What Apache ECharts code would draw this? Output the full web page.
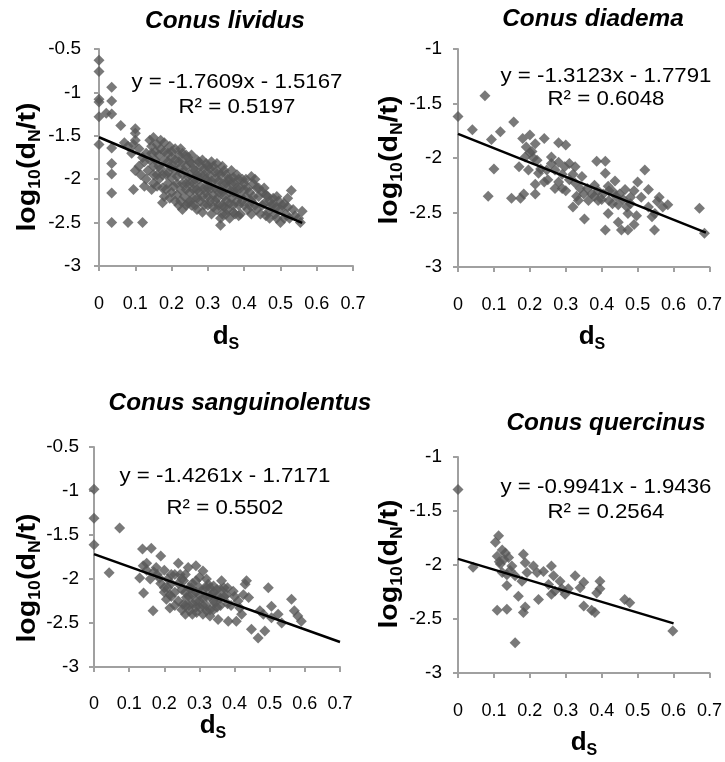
<!DOCTYPE html>
<html>
<head>
<meta charset="utf-8">
<script src="https://cdn.jsdelivr.net/npm/echarts@6/dist/echarts.min.js"></script>
<style>
  html, body { margin: 0; padding: 0; background: #fff; }
  #chart { width: 725px; height: 762px; }
</style>
</head>
<body>
<div id="chart"></div>
<script>
// species names (panel titles)
const titles = ["Conus lividus", "Conus diadema", "Conus sanguinolentus", "Conus quercinus"];
const equations = ["y = -1.7609x - 1.5167", "y = -1.3123x - 1.7791", "y = -1.4261x - 1.7171", "y = -0.9941x - 1.9436"];
const r2Labels = ["R² = 0.5197", "R² = 0.6048", "R² = 0.5502", "R² = 0.2564"];

// y axis ranges [min, max] per panel
const yRanges = [[-3, -0.5], [-3, -1], [-3, -0.5], [-3, -1]];
const xRange = [0, 0.7];

// [ds, log10(dN/t)]
const lividus = [
  [0,-0.63],[0,-0.76],[0,-1.08],[0,-1.11],[0,-1.28],[0,-1.6],
  [0.02,-1.24],[0.035,-0.94],[0.035,-1.1],[0.035,-1.25],[0.035,-1.64],[0.035,-1.82],[0.035,-1.94],[0.035,-2.16],[0.035,-2.5],
  [0.06,-1.38],[0.08,-2.5],[0.12,-2.5],[0.095,-2.12],[0.125,-2.08],
  [0.07,-1.58],[0.08,-1.62],[0.09,-1.7],[0.1,-1.42],[0.1,-1.47],[0.1,-1.55],[0.095,-1.6],[0.11,-1.65],[0.1,-1.9],[0.11,-1.85],
  [0.115,-1.95],[0.12,-1.75],[0.13,-1.7],[0.125,-1.8],[0.135,-1.9],[0.13,-2.0],
  [0.14,-1.55],[0.15,-1.52],[0.145,-1.62],[0.155,-1.68],[0.14,-1.78],[0.15,-1.85],[0.16,-1.6],[0.165,-1.72],[0.17,-1.65],
  [0.16,-1.95],[0.15,-2.05],[0.145,-2.12],[0.165,-2.0],[0.17,-1.88],[0.175,-2.1],[0.18,-1.58],[0.18,-1.78],[0.185,-1.95],
  [0.18,-2.2],[0.175,-2.27],[0.19,-1.7],[0.19,-2.05],[0.195,-1.62],[0.195,-1.85],[0.2,-2.15],[0.2,-1.75],[0.2,-1.98],
  [0.21,-1.65],[0.21,-1.9],[0.21,-2.25],[0.215,-2.05],[0.22,-1.72],[0.22,-1.8],[0.22,-2.3],[0.225,-2.12],[0.23,-1.7],
  [0.23,-1.95],[0.23,-2.35],[0.235,-2.2],[0.24,-1.85],[0.24,-2.05],[0.245,-1.75],[0.245,-2.28],[0.25,-1.95],[0.25,-2.15],
  [0.255,-1.82],[0.255,-2.3],[0.26,-2.05],[0.26,-2.22],[0.265,-1.9],[0.27,-1.78],[0.27,-2.12],[0.27,-2.35],[0.275,-2.0],
  [0.28,-1.85],[0.28,-2.25],[0.285,-2.38],[0.29,-1.95],[0.29,-2.1],[0.295,-1.82],[0.3,-2.2],[0.3,-2.3],[0.3,-2.02],
  [0.305,-1.88],[0.31,-2.1],[0.31,-2.4],[0.315,-1.85],[0.32,-2.0],[0.32,-2.25],[0.325,-2.35],[0.33,-1.92],[0.33,-2.15],
  [0.335,-2.53],[0.335,-2.45],[0.34,-1.85],[0.34,-2.05],[0.34,-2.3],[0.345,-2.2],[0.35,-1.95],[0.35,-2.4],[0.355,-2.1],
  [0.36,-2.0],[0.36,-2.28],[0.365,-1.9],[0.37,-2.15],[0.37,-2.38],[0.375,-2.05],[0.38,-1.95],[0.38,-2.25],[0.385,-2.42],
  [0.39,-2.1],[0.39,-2.2],[0.395,-2.0],[0.4,-2.3],[0.4,-2.12],
  [0.405,-2.0],[0.41,-2.35],[0.415,-2.15],[0.42,-1.97],[0.42,-2.25],[0.425,-2.05],[0.43,-2.3],[0.435,-2.1],[0.44,-2.2],
  [0.445,-2.4],[0.45,-2.15],[0.455,-2.28],[0.46,-2.18],[0.465,-2.38],[0.47,-2.25],[0.47,-2.45],[0.475,-2.3],[0.48,-2.22],
  [0.485,-2.4],[0.49,-2.32],[0.495,-2.25],[0.5,-2.5],[0.5,-2.35],
  [0.51,-2.28],[0.515,-2.4],[0.52,-2.32],[0.525,-2.45],[0.53,-2.13],[0.535,-2.35],[0.54,-2.42],[0.55,-2.45],[0.555,-2.5],[0.56,-2.37],
  [0.145,-1.7],[0.15,-1.95],[0.155,-1.78],[0.16,-2.08],[0.165,-1.85],[0.17,-1.55],[0.175,-1.95],[0.18,-1.68],[0.185,-2.12],
  [0.19,-1.8],[0.19,-1.92],[0.195,-2.22],[0.2,-1.68],[0.205,-1.85],[0.205,-2.08],[0.21,-1.78],[0.215,-1.97],[0.215,-2.18],
  [0.22,-1.88],[0.225,-1.65],[0.225,-2.25],[0.23,-1.8],[0.23,-2.05],[0.235,-1.9],[0.24,-1.72],[0.24,-2.12],[0.24,-2.3],
  [0.245,-1.98],[0.25,-1.8],[0.25,-2.05],[0.25,-2.25],[0.255,-1.72],[0.26,-1.88],[0.26,-2.12],[0.265,-2.0],[0.265,-2.3],
  [0.27,-1.95],[0.27,-2.22],[0.275,-1.8],[0.275,-2.15],[0.28,-1.95],[0.28,-2.08],[0.285,-1.78],[0.285,-2.2],[0.29,-1.88],
  [0.29,-2.3],[0.295,-2.0],[0.295,-2.15],[0.3,-1.85],[0.3,-2.1],[0.305,-1.95],[0.305,-2.25],[0.31,-1.8],[0.31,-2.02],
  [0.315,-2.18],[0.315,-2.32],[0.32,-1.92],[0.32,-2.1],[0.325,-1.82],[0.325,-2.22],[0.33,-2.02],[0.33,-2.3],[0.335,-1.95],
  [0.335,-2.12],[0.34,-2.4],[0.34,-2.15],[0.345,-1.9],[0.345,-2.32],[0.35,-2.05],[0.35,-2.25],[0.355,-2.0],[0.355,-2.35],
  [0.36,-2.15],[0.36,-2.45],[0.365,-2.05],[0.365,-2.22],[0.37,-1.98],[0.37,-2.3],[0.375,-2.15],[0.375,-2.4],[0.38,-2.1],
  [0.385,-2.0],[0.385,-2.3],[0.39,-2.4],[0.395,-2.25],[0.4,-2.05],[0.405,-2.2],[0.41,-2.1],[0.415,-2.3],[0.42,-2.4],
  [0.425,-2.2],[0.43,-2.0],[0.435,-2.35],[0.44,-2.1],[0.45,-2.3],[0.455,-2.1],[0.46,-2.42],[0.465,-2.2],[0.48,-2.3],
  [0.49,-2.2],[0.49,-2.45],[0.505,-2.3],[0.51,-2.45],[0.52,-2.22]
];

const diadema = [
  [0,-1.62],[0.075,-1.43],[0.04,-1.74],[0.093,-1.83],[0.118,-1.76],[0.1,-2.1],[0.084,-2.35],[0.155,-1.67],[0.149,-2.37],
  [0.174,-2.37],[0.183,-2.33],[0.17,-2.08],[0.18,-1.82],[0.2,-1.79],[0.24,-1.82],[0.19,-1.9],[0.206,-1.94],[0.215,-1.87],
  [0.187,-1.99],[0.196,-2.11],[0.22,-2.02],[0.224,-2.14],[0.215,-2.24],[0.215,-2.33],[0.24,-2.22],[0.247,-2.11],[0.26,-1.99],
  [0.28,-1.86],[0.3,-1.88],[0.27,-2.11],[0.28,-2.22],[0.29,-2.28],[0.3,-2.3],[0.28,-2.04],[0.297,-2.08],[0.31,-2.05],
  [0.326,-2.08],[0.326,-2.23],[0.32,-2.45],[0.345,-2.17],[0.35,-2.33],[0.352,-2.56],[0.363,-2.39],[0.335,-2.39],[0.372,-2.33],
  [0.38,-2.25],[0.39,-2.39],[0.404,-2.33],[0.386,-2.03],[0.41,-2.03],[0.41,-2.14],[0.418,-2.26],[0.42,-2.39],[0.418,-2.51],
  [0.41,-2.66],[0.437,-2.21],[0.432,-2.31],[0.45,-2.33],[0.465,-2.29],[0.446,-2.43],[0.446,-2.59],[0.455,-2.66],[0.473,-2.66],
  [0.473,-2.51],[0.48,-2.36],[0.49,-2.61],[0.497,-2.53],[0.5,-2.22],[0.51,-2.36],[0.52,-2.11],[0.53,-2.29],[0.53,-2.45],
  [0.54,-2.54],[0.547,-2.66],[0.56,-2.36],[0.57,-2.45],[0.584,-2.43],[0.555,-2.4],[0.672,-2.46],[0.686,-2.69],[0.548,-2.51],
  [0.36,-2.28],[0.38,-2.35],[0.39,-2.3],[0.4,-2.38],[0.42,-2.3],[0.43,-2.42],[0.44,-2.35],[0.46,-2.38],[0.47,-2.45],
  [0.48,-2.42],[0.49,-2.3],[0.34,-2.28],[0.33,-2.35],[0.31,-2.2],[0.2,-1.95],[0.21,-2.0],[0.23,-2.1],[0.25,-2.2],
  [0.26,-2.05],[0.27,-2.28],[0.29,-2.15],[0.32,-2.15]
];

const sanguinolentus = [
  [0,-0.98],[0,-1.31],[0,-1.61],[0.073,-1.42],[0.043,-1.93],[0.13,-1.99],[0.138,-1.66],[0.163,-1.65],[0.141,-2.16],
  [0.168,-2.36],[0.15,-1.82],[0.177,-1.87],[0.19,-1.74],[0.186,-1.99],[0.2,-2.1],[0.216,-2.18],[0.206,-2.23],[0.216,-2.33],
  [0.24,-1.82],[0.245,-1.95],[0.255,-2.02],[0.268,-1.87],[0.29,-1.85],[0.31,-1.91],[0.277,-2.1],[0.263,-2.21],[0.253,-2.29],
  [0.272,-2.36],[0.292,-2.38],[0.31,-2.4],[0.32,-2.36],[0.3,-2.18],[0.325,-2.06],[0.335,-2.18],[0.344,-2.27],[0.353,-2.46],
  [0.363,-2.02],[0.377,-2.18],[0.382,-2.48],[0.396,-2.14],[0.405,-2.48],[0.415,-2.33],[0.425,-2.18],[0.434,-2.02],[0.43,-2.06],
  [0.44,-2.21],[0.448,-2.57],[0.467,-2.67],[0.486,-2.59],[0.472,-2.36],[0.482,-2.4],[0.496,-2.1],[0.505,-2.31],[0.505,-2.44],
  [0.524,-2.4],[0.534,-2.5],[0.562,-2.23],[0.57,-2.36],[0.58,-2.42],[0.59,-2.48],
  [0.22,-2.05],[0.23,-2.15],[0.24,-2.25],[0.25,-2.12],[0.26,-2.3],[0.27,-2.2],[0.28,-2.05],[0.28,-2.28],[0.29,-2.15],
  [0.29,-2.32],[0.3,-2.25],[0.31,-2.12],[0.31,-2.3],[0.32,-2.2],[0.33,-2.1],[0.33,-2.35],[0.34,-2.25],[0.35,-2.12],
  [0.36,-2.3],[0.37,-2.2],[0.38,-2.1],[0.39,-2.3],[0.41,-2.25],[0.42,-2.4],[0.2,-1.9],[0.21,-2.0],[0.23,-1.95],
  [0.26,-1.95],[0.3,-1.98],[0.32,-2.0],[0.34,-2.08],[0.36,-2.12],[0.4,-2.2],[0.25,-2.35],[0.28,-2.4],[0.33,-2.42],
  [0.35,-2.32],[0.18,-1.95],[0.19,-2.05],[0.17,-1.92],
  [0.2,-2.15],[0.21,-2.1],[0.22,-2.2],[0.23,-2.3],[0.24,-2.05],[0.25,-2.0],[0.26,-2.15],[0.27,-2.1],[0.27,-2.3],
  [0.28,-2.18],[0.29,-2.25],[0.3,-2.32],[0.3,-2.1],[0.31,-2.22],[0.32,-2.3],[0.32,-2.1],[0.33,-2.2],[0.34,-2.35],
  [0.34,-2.15],[0.35,-2.2],[0.36,-2.22],[0.37,-2.1],[0.38,-2.28],[0.26,-2.4],[0.29,-2.02],[0.22,-1.95],[0.15,-1.9],
  [0.16,-2.0],[0.14,-1.85]
];

const quercinus = [
  [0,-1.3],[0.042,-2.02],[0.104,-1.79],[0.113,-1.73],[0.109,-1.92],[0.118,-1.99],[0.123,-1.86],[0.132,-1.89],[0.141,-1.93],
  [0.123,-2.07],[0.136,-2.09],[0.15,-2.01],[0.159,-2.1],[0.136,-2.19],[0.109,-2.42],[0.136,-2.41],[0.159,-2.72],[0.168,-2.29],
  [0.178,-2.15],[0.182,-1.9],[0.187,-1.98],[0.192,-2.07],[0.187,-2.39],[0.182,-2.44],[0.21,-2.01],[0.22,-2.07],[0.224,-2.32],
  [0.238,-2.06],[0.252,-2.18],[0.26,-2.01],[0.266,-2.1],[0.26,-2.27],[0.27,-2.24],[0.284,-2.15],[0.289,-2.22],[0.298,-2.27],
  [0.307,-2.22],[0.326,-2.1],[0.34,-2.21],[0.35,-2.16],[0.35,-2.38],[0.372,-2.42],[0.381,-2.44],[0.386,-2.26],[0.395,-2.22],
  [0.395,-2.15],[0.464,-2.32],[0.478,-2.35],[0.598,-2.61],[0.115,-1.97],[0.128,-1.95],[0.145,-2.05]
];

// trendline end points
const trends = [
  [[0, -1.5167], [0.56, -2.5028]],
  [[0, -1.7791], [0.69, -2.6846]],
  [[0, -1.7171], [0.7, -2.7154]],
  [[0, -1.9436], [0.6, -2.5401]]
];
const points = [lividus, diadema, sanguinolentus, quercinus];

// layout
const grids = [
  { left: 99, top: 49, width: 254, height: 217 },
  { left: 458, top: 49, width: 252, height: 218 },
  { left: 94, top: 447, width: 246, height: 220 },
  { left: 458, top: 457, width: 252, height: 216 }
];
const xLabelMargin = [29, 29, 28, 29];
const yLabelMargin = [18, 16, 15, 16];
const titlePos = [[225, 22], [593, 20], [240, 404], [606, 424]];
const eqPos = [[237, 82, 107], [606, 76, 99], [225, 476, 508], [606, 487, 512]];
const yNamePos = [[28, 167], [390, 160], [28, 578], [390, 564]];
const xNamePos = [[226, 337], [592, 337], [213, 726], [584, 743]];

const FONT = '"Liberation Sans", Arial, sans-serif';
const axisGray = "#a0a0a0";

const chart = echarts.init(document.getElementById("chart"), null, { renderer: "canvas" });

const sub = (size) => ({ fontSize: size, fontWeight: "bold", fontFamily: FONT, fill: "#000", lineHeight: 14, verticalAlign: "bottom" });
const main = (size) => ({ fontSize: size, fontWeight: "bold", fontFamily: FONT, fill: "#000", lineHeight: 32 });

const graphic = [];
titles.forEach((t, i) => {
  graphic.push({
    type: "text", x: titlePos[i][0], y: titlePos[i][1], z: 10, scaleX: 1.06,
    style: { text: t, font: "italic bold 23px " + FONT, fill: "#000", align: "center", verticalAlign: "middle" }
  });
  graphic.push({
    type: "text", x: eqPos[i][0], y: eqPos[i][1], z: 10, scaleX: 1.06,
    style: { text: equations[i], font: "21px " + FONT, fill: "#000", align: "center", verticalAlign: "middle" }
  });
  graphic.push({
    type: "text", x: eqPos[i][0], y: eqPos[i][2], z: 10, scaleX: 1.06,
    style: { text: r2Labels[i], font: "21px " + FONT, fill: "#000", align: "center", verticalAlign: "middle" }
  });
  graphic.push({
    type: "text", x: yNamePos[i][0], y: yNamePos[i][1], rotation: Math.PI / 2, z: 10, scaleX: 1.1,
    style: {
      text: "{m|log}{s|10}{m|(d}{s|N}{m|/t)}", align: "center", verticalAlign: "middle",
      rich: { m: main(26), s: sub(16) }
    }
  });
  graphic.push({
    type: "text", x: xNamePos[i][0], y: xNamePos[i][1], z: 10,
    style: {
      text: "{m|d}{s|S}", align: "center", verticalAlign: "middle",
      rich: { m: main(26), s: sub(16) }
    }
  });
});

const axisCommon = {
  type: "value",
  axisLine: { show: true, onZero: false, lineStyle: { color: axisGray, width: 2 } },
  axisTick: { show: true, length: 5, lineStyle: { color: axisGray, width: 2 } },
  splitLine: { show: false }
};

chart.setOption({
  animation: false,
  grid: grids,
  xAxis: grids.map((g, i) => ({
    ...axisCommon,
    gridIndex: i,
    min: xRange[0], max: xRange[1], interval: 0.1,
    axisLabel: { fontSize: 18, color: "#000", fontFamily: FONT, margin: xLabelMargin[i] }
  })),
  yAxis: grids.map((g, i) => ({
    ...axisCommon,
    gridIndex: i,
    min: yRanges[i][0], max: yRanges[i][1], interval: 0.5,
    axisLabel: { fontSize: 19, color: "#000", fontFamily: FONT, margin: yLabelMargin[i] }
  })),
  series: points.flatMap((pts, i) => [
    {
      type: "scatter", xAxisIndex: i, yAxisIndex: i, data: pts,
      symbol: "diamond", symbolSize: 11,
      itemStyle: { color: "#585858" }
    },
    {
      type: "line", xAxisIndex: i, yAxisIndex: i, data: trends[i], z: 5,
      symbol: "none", lineStyle: { color: "#000", width: 2.5 }
    }
  ]),
  graphic: graphic
});
</script>
</body>
</html>
